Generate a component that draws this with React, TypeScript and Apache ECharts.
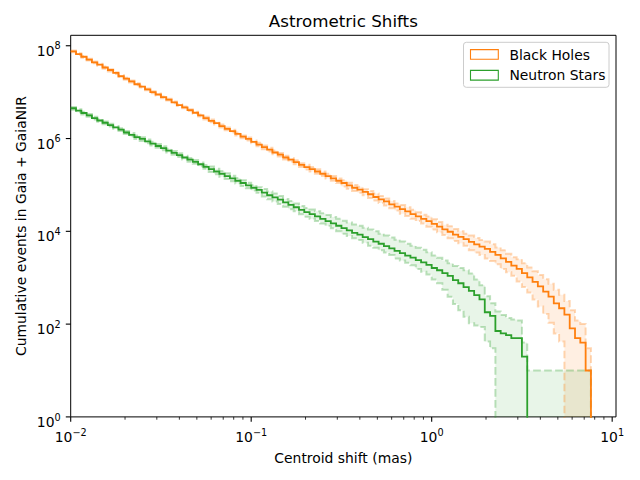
import React, { useEffect, useRef } from "react";
import * as echarts from "echarts";

// ---- bin edges: log-spaced, 34 bins per decade starting at 1e-2 ----
const BINS_PER_DECADE = 34;
const FIRST_EDGE_EXP = -2;
const N_EDGES = 99;
const BIN_EDGES: number[] = Array.from({ length: N_EDGES }, (_, i) =>
  Math.pow(10, FIRST_EDGE_EXP + i / BINS_PER_DECADE)
);

// ---- Black Holes (cumulative events per bin) ----
const BH_MAIN = [
  7.6e7, 6.6e7, 5.8e7, 5.0e7, 4.4e7, 3.9e7, 3.4e7, 3.0e7, 2.6e7, 2.2e7,
  1.95e7, 1.7e7, 1.48e7, 1.32e7, 1.15e7, 1.0e7, 8.9e6, 7.8e6, 6.9e6, 6.0e6,
  5.25e6, 4.7e6, 4.1e6, 3.6e6, 3.16e6, 2.75e6, 2.4e6, 2.14e6, 1.86e6, 1.62e6,
  1.45e6, 1.26e6, 1.1e6, 9.8e5, 8.5e5, 7.4e5, 6.5e5, 5.75e5, 5.0e5, 4.5e5,
  3.9e5, 3.5e5, 3.1e5, 2.7e5, 2.43e5, 2.19e5, 1.95e5, 1.74e5, 1.55e5, 1.38e5,
  1.23e5, 1.1e5, 9.8e4, 8.7e4, 7.9e4, 7.1e4, 6.3e4, 5.5e4, 4.9e4, 4.4e4,
  3.8e4, 3.4e4, 3.0e4, 2.7e4, 2.34e4, 2.09e4, 1.86e4, 1.66e4, 1.45e4, 1.26e4,
  1.1e4, 9.8e3, 8.5e3, 7.6e3, 6.8e3, 5.9e3, 5.25e3, 4.7e3, 4.2e3, 3.6e3,
  3.1e3, 2.6e3, 2.2e3, 1.82e3, 1.55e3, 1.26e3, 1.02e3, 810, 650, 500,
  390, 280, 220, 160, 81, 50, 40, 10,
];
const BH_UPPER = [
  7.9e7, 6.9e7, 6.0e7, 5.25e7, 4.6e7, 4.1e7, 3.55e7, 3.1e7, 2.7e7, 2.34e7,
  2.04e7, 1.78e7, 1.55e7, 1.38e7, 1.2e7, 1.05e7, 9.3e6, 8.1e6, 7.2e6, 6.3e6,
  5.5e6, 4.9e6, 4.27e6, 3.76e6, 3.3e6, 2.95e6, 2.57e6, 2.29e6, 2.0e6, 1.74e6,
  1.55e6, 1.35e6, 1.17e6, 1.05e6, 9.1e5, 8.1e5, 7.1e5, 6.3e5, 5.5e5, 4.9e5,
  4.27e5, 3.8e5, 3.4e5, 2.95e5, 2.72e5, 2.45e5, 2.19e5, 1.95e5, 1.74e5, 1.55e5,
  1.38e5, 1.26e5, 1.12e5, 1.0e5, 9.1e4, 8.1e4, 7.4e4, 6.5e4, 5.75e4, 5.1e4,
  4.5e4, 4.0e4, 3.7e4, 3.3e4, 2.9e4, 2.57e4, 2.29e4, 2.09e4, 1.82e4, 1.58e4,
  1.38e4, 1.29e4, 1.12e4, 1.0e4, 8.9e3, 8.1e3, 7.2e3, 6.5e3, 6.0e3, 5.25e3,
  4.5e3, 3.9e3, 3.3e3, 2.75e3, 2.5e3, 2.04e3, 1.66e3, 1.38e3, 1.15e3, 930,
  740, 550, 430, 316, 200, 120, 100, 30,
];
const BH_LOWER = [
  7.2e7, 6.3e7, 5.5e7, 4.8e7, 4.2e7, 3.7e7, 3.2e7, 2.8e7, 2.45e7, 2.14e7,
  1.86e7, 1.62e7, 1.41e7, 1.26e7, 1.1e7, 9.5e6, 8.5e6, 7.4e6, 6.6e6, 5.75e6,
  5.0e6, 4.5e6, 3.9e6, 3.43e6, 3.0e6, 2.57e6, 2.24e6, 2.0e6, 1.74e6, 1.51e6,
  1.35e6, 1.17e6, 1.02e6, 9.1e5, 7.9e5, 6.8e5, 5.9e5, 5.25e5, 4.6e5, 4.1e5,
  3.55e5, 3.16e5, 2.8e5, 2.45e5, 2.16e5, 1.95e5, 1.74e5, 1.55e5, 1.38e5, 1.23e5,
  1.1e5, 9.3e4, 8.3e4, 7.4e4, 6.8e4, 6.0e4, 5.25e4, 4.6e4, 4.1e4, 3.6e4,
  3.16e4, 2.8e4, 2.4e4, 2.14e4, 1.86e4, 1.66e4, 1.48e4, 1.26e4, 1.1e4, 9.5e3,
  8.3e3, 7.1e3, 6.2e3, 5.5e3, 4.9e3, 3.9e3, 3.5e3, 3.1e3, 2.6e3, 2.3e3,
  1.95e3, 1.55e3, 1.32e3, 1.1e3, 830, 630, 480, 340, 240, 166,
  107, 63, 42,
];

// ---- Neutron Stars ----
const NS_MAIN = [
  4.5e6, 4.0e6, 3.55e6, 3.16e6, 2.75e6, 2.45e6, 2.19e6, 1.95e6, 1.74e6, 1.55e6,
  1.35e6, 1.2e6, 1.07e6, 9.8e5, 8.7e5, 7.8e5, 6.9e5, 6.2e5, 5.5e5, 4.9e5,
  4.4e5, 3.9e5, 3.5e5, 3.13e5, 2.79e5, 2.45e5, 2.19e5, 1.95e5, 1.74e5, 1.55e5,
  1.38e5, 1.23e5, 1.1e5, 9.8e4, 8.7e4, 7.8e4, 6.8e4, 6.0e4, 5.4e4, 4.8e4,
  4.2e4, 3.7e4, 3.3e4, 2.9e4, 2.6e4, 2.34e4, 2.09e4, 1.86e4, 1.66e4, 1.48e4,
  1.32e4, 1.17e4, 1.05e4, 9.3e3, 8.5e3, 7.5e3, 6.8e3, 6.0e3, 5.4e3, 4.8e3,
  4.3e3, 3.8e3, 3.4e3, 3.0e3, 2.7e3, 2.4e3, 2.14e3, 1.9e3, 1.62e3, 1.45e3,
  1.26e3, 1.1e3, 890, 760, 630, 520, 420, 340, 180, 150,
  71, 63, 58, 50, 50, 20,
];
const NS_UPPER = [
  4.8e6, 4.27e6, 3.8e6, 3.4e6, 2.95e6, 2.63e6, 2.34e6, 2.09e6, 1.86e6, 1.66e6,
  1.45e6, 1.32e6, 1.17e6, 1.07e6, 9.5e5, 8.5e5, 7.6e5, 6.8e5, 6.0e5, 5.4e5,
  4.8e5, 4.27e5, 3.8e5, 3.43e5, 3.05e5, 2.7e5, 2.5e5, 2.24e5, 2.0e5, 1.78e5,
  1.58e5, 1.41e5, 1.26e5, 1.12e5, 1.0e5, 8.9e4, 8.2e4, 7.2e4, 6.5e4, 5.75e4,
  5.0e4, 4.5e4, 4.0e4, 3.5e4, 3.2e4, 2.95e4, 2.7e4, 2.45e4, 2.24e4, 2.04e4,
  1.86e4, 1.7e4, 1.55e4, 1.41e4, 1.32e4, 1.19e4, 1.1e4, 1.0e4, 8.9e3, 8.1e3,
  7.4e3, 6.6e3, 6.0e3, 5.4e3, 4.9e3, 4.4e3, 4.0e3, 3.55e3, 3.0e3, 2.7e3,
  2.34e3, 2.04e3, 1.78e3, 1.62e3, 1.45e3, 1.23e3, 910, 690, 400, 280,
  186, 158, 135, 126, 120, 40, 10, 10, 10, 10,
  10, 10, 10, 10, 10, 10, 10, 10,
];
const NS_LOWER = [
  4.2e6, 3.7e6, 3.3e6, 2.95e6, 2.57e6, 2.29e6, 2.04e6, 1.82e6, 1.62e6, 1.45e6,
  1.26e6, 1.1e6, 9.8e5, 8.9e5, 7.9e5, 7.1e5, 6.3e5, 5.6e5, 5.0e5, 4.5e5,
  4.0e5, 3.55e5, 3.16e5, 2.85e5, 2.54e5, 2.24e5, 1.9e5, 1.7e5, 1.51e5, 1.35e5,
  1.2e5, 1.07e5, 9.5e4, 8.5e4, 7.6e4, 6.8e4, 5.6e4, 4.9e4, 4.4e4, 3.9e4,
  3.4e4, 3.0e4, 2.7e4, 2.34e4, 2.07e4, 1.86e4, 1.66e4, 1.48e4, 1.32e4, 1.17e4,
  1.0e4, 8.9e3, 7.9e3, 7.1e3, 6.5e3, 5.7e3, 4.9e3, 4.4e3, 3.9e3, 3.5e3,
  3.1e3, 2.6e3, 2.34e3, 2.09e3, 1.86e3, 1.55e3, 1.35e3, 1.17e3, 910, 760,
  550, 390, 270, 200, 145, 105, 93, 87, 42, 30,
];

// ---- axes ----
const X_MIN = 0.01;
const X_MAX = 10.5;
const Y_MIN = 1;
const Y_MAX = 1.68e8;
const ZERO_LEVEL = 1e-2; // below the axis: represents zero counts
const X_MAJOR = [0.01, 0.1, 1, 10];
const X_MAJOR_EXP = ["\u22122", "\u22121", "0", "1"];
const X_MINOR = [
  0.02, 0.03, 0.04, 0.05, 0.06, 0.07, 0.08, 0.09,
  0.2, 0.3, 0.4, 0.5, 0.6, 0.7, 0.8, 0.9,
  2, 3, 4, 5, 6, 7, 8, 9,
];
const Y_MAJOR = [1, 1e2, 1e4, 1e6, 1e8];
const Y_MAJOR_EXP = ["0", "2", "4", "6", "8"];

const TITLE = "Astrometric Shifts";
const X_LABEL = "Centroid shift (mas)";
const Y_LABEL = "Cumulative events in Gaia + GaiaNIR";
const LEGEND = ["Black Holes", "Neutron Stars"];

const ORANGE = "#ff7f0e";
const GREEN = "#2ca02c";
const FONT = "DejaVu Sans";

function stepPoints(values: number[]): number[][] {
  const pts: number[][] = [];
  for (let i = 0; i < values.length; i++) {
    pts.push([BIN_EDGES[i], values[i]]);
    pts.push([BIN_EDGES[i + 1], values[i]]);
  }
  pts.push([BIN_EDGES[values.length], ZERO_LEVEL]);
  return pts;
}

function bandPolygon(upper: number[], lower: number[]): number[][] {
  const top: number[][] = [];
  const bottom: number[][] = [];
  for (let i = 0; i < upper.length; i++) {
    top.push([BIN_EDGES[i], upper[i]], [BIN_EDGES[i + 1], upper[i]]);
    const lo = i < lower.length ? lower[i] : ZERO_LEVEL;
    bottom.push([BIN_EDGES[i], lo], [BIN_EDGES[i + 1], lo]);
  }
  return top.concat(bottom.reverse());
}

function bandSeries(upper: number[], lower: number[], fill: string) {
  const poly = bandPolygon(upper, lower);
  return {
    type: "custom",
    coordinateSystem: "cartesian2d",
    clip: true,
    silent: true,
    z: 1,
    data: [[X_MIN, Y_MIN]],
    encode: { x: 0, y: 1 },
    renderItem: (_params: any, api: any) => ({
      type: "polygon",
      shape: { points: poly.map((p) => api.coord(p)) },
      style: { fill, stroke: "none" },
    }),
  };
}

function stepSeries(values: number[], color: string, dashed: boolean) {
  return {
    type: "line",
    data: stepPoints(values),
    symbol: "none",
    showSymbol: false,
    silent: true,
    clip: true,
    z: dashed ? 2 : 3,
    lineStyle: {
      color,
      width: dashed ? 2 : 1.8,
      type: dashed ? [7.7, 3.3] : "solid",
      cap: "butt",
      join: "miter",
    },
  };
}

const RICH = {
  b: { fontSize: 13.9, fontFamily: FONT, lineHeight: 17, verticalAlign: "bottom", color: "#000" },
  s: { fontSize: 9.7, fontFamily: FONT, lineHeight: 10, verticalAlign: "top", color: "#000" },
};

function tickSeries() {
  const data: number[][] = [];
  X_MAJOR.forEach((v, i) => data.push([v, Y_MIN, 0, i]));
  X_MINOR.forEach((v, i) => data.push([v, Y_MIN, 1, i]));
  Y_MAJOR.forEach((v, i) => data.push([X_MIN, v, 2, i]));
  return {
    type: "custom",
    coordinateSystem: "cartesian2d",
    clip: false,
    silent: true,
    z: 10,
    data,
    encode: { x: 0, y: 1 },
    renderItem: (_params: any, api: any) => {
      const kind = api.value(2);
      const idx = api.value(3);
      const p = api.coord([api.value(0), api.value(1)]);
      if (kind === 1) {
        return {
          type: "line",
          shape: { x1: p[0], y1: p[1], x2: p[0], y2: p[1] + 2.8 },
          style: { stroke: "#000", lineWidth: 0.8 },
        };
      }
      if (kind === 0) {
        return {
          type: "group",
          children: [
            {
              type: "line",
              shape: { x1: p[0], y1: p[1], x2: p[0], y2: p[1] + 4.9 },
              style: { stroke: "#000", lineWidth: 1.1 },
            },
            {
              type: "text",
              x: p[0],
              y: p[1] + 10.4,
              style: {
                text: "{b|10}{s|" + X_MAJOR_EXP[idx] + "}",
                rich: RICH,
                align: "center",
                verticalAlign: "top",
                textAlign: "center",
                textVerticalAlign: "top",
                fill: "#000",
              },
            },
          ],
        };
      }
      return {
        type: "group",
        children: [
          {
            type: "line",
            shape: { x1: p[0], y1: p[1], x2: p[0] - 4.9, y2: p[1] },
            style: { stroke: "#000", lineWidth: 1.1 },
          },
          {
            type: "text",
            x: p[0] - 10,
            y: p[1] + 3.6,
            style: {
              text: "{b|10}{s|" + Y_MAJOR_EXP[idx] + "}",
              rich: RICH,
              align: "right",
              verticalAlign: "middle",
              textAlign: "right",
              textVerticalAlign: "middle",
              fill: "#000",
            },
          },
        ],
      };
    },
  };
}

export default function App() {
  const ref = useRef<HTMLDivElement>(null);
  useEffect(() => {
    document.body.style.margin = "0";
    if (!ref.current) return;
    const chart = echarts.init(ref.current, undefined, { renderer: "svg", width: 640, height: 480 });
    const gridLeft = 70.7;
    const gridTop = 35.3;
    const gridRight = 616;
    const gridBottom = 416.9;
    const cx = (gridLeft + gridRight) / 2;
    const cy = (gridTop + gridBottom) / 2;
    chart.setOption({
      animation: false,
      backgroundColor: "#ffffff",
      grid: {
        left: gridLeft,
        top: gridTop,
        right: 640 - gridRight,
        bottom: 480 - gridBottom,
        containLabel: false,
        outerBoundsMode: "none",
        show: true,
        borderColor: "#000",
        borderWidth: 1,
        backgroundColor: "transparent",
      },
      xAxis: {
        type: "log",
        logBase: 10,
        min: X_MIN,
        max: X_MAX,
        axisLine: { show: false },
        axisTick: { show: false },
        axisLabel: { show: false },
        splitLine: { show: false },
        minorTick: { show: false },
        minorSplitLine: { show: false },
      },
      yAxis: {
        type: "log",
        logBase: 10,
        min: Y_MIN,
        max: Y_MAX,
        axisLine: { show: false },
        axisTick: { show: false },
        axisLabel: { show: false },
        splitLine: { show: false },
        minorTick: { show: false },
        minorSplitLine: { show: false },
      },
      series: [
        bandSeries(BH_UPPER, BH_LOWER, "rgba(255,127,14,0.12)"),
        bandSeries(NS_UPPER, NS_LOWER, "rgba(44,160,44,0.11)"),
        stepSeries(BH_UPPER, "rgba(255,127,14,0.3)", true),
        stepSeries(BH_LOWER, "rgba(255,127,14,0.3)", true),
        stepSeries(NS_UPPER, "rgba(44,160,44,0.3)", true),
        stepSeries(NS_LOWER, "rgba(44,160,44,0.3)", true),
        stepSeries(BH_MAIN, ORANGE, false),
        stepSeries(NS_MAIN, GREEN, false),
        tickSeries(),
      ],
      graphic: [
        {
          type: "text",
          x: cx,
          y: 21,
          style: {
            text: TITLE,
            fontSize: 16.7,
            fontFamily: FONT,
            fill: "#000",
            align: "center",
            verticalAlign: "middle",
            textAlign: "center",
            textVerticalAlign: "middle",
          },
        },
        {
          type: "text",
          x: cx,
          y: 458,
          style: {
            text: X_LABEL,
            fontSize: 13.9,
            fontFamily: FONT,
            fill: "#000",
            align: "center",
            verticalAlign: "middle",
            textAlign: "center",
            textVerticalAlign: "middle",
          },
        },
        {
          type: "text",
          x: 21,
          y: cy,
          rotation: Math.PI / 2,
          style: {
            text: Y_LABEL,
            fontSize: 13.9,
            fontFamily: FONT,
            fill: "#000",
            align: "center",
            verticalAlign: "middle",
            textAlign: "center",
            textVerticalAlign: "middle",
          },
        },
        {
          type: "group",
          z: 100,
          children: [
            {
              type: "rect",
              shape: { x: 463.5, y: 42.3, width: 145.5, height: 45, r: 2.8 },
              style: { fill: "rgba(255,255,255,0.8)", stroke: "#cccccc", lineWidth: 1 },
            },
            {
              type: "rect",
              shape: { x: 470.5, y: 49.6, width: 27.8, height: 9.7 },
              style: { fill: "none", stroke: ORANGE, lineWidth: 1.1 },
            },
            {
              type: "text",
              x: 509.4,
              y: 54.5,
              style: {
                text: LEGEND[0],
                fontSize: 13.9,
                fontFamily: FONT,
                fill: "#000",
                align: "left",
                verticalAlign: "middle",
                textAlign: "left",
                textVerticalAlign: "middle",
              },
            },
            {
              type: "rect",
              shape: { x: 470.5, y: 70.4, width: 27.8, height: 9.7 },
              style: { fill: "none", stroke: GREEN, lineWidth: 1.1 },
            },
            {
              type: "text",
              x: 509.4,
              y: 75.3,
              style: {
                text: LEGEND[1],
                fontSize: 13.9,
                fontFamily: FONT,
                fill: "#000",
                align: "left",
                verticalAlign: "middle",
                textAlign: "left",
                textVerticalAlign: "middle",
              },
            },
          ],
        },
      ],
    });
    return () => chart.dispose();
  }, []);
  return (
    <div
      ref={ref}
      style={{ position: "fixed", left: 0, top: 0, width: 640, height: 480, background: "#fff" }}
    />
  );
}
